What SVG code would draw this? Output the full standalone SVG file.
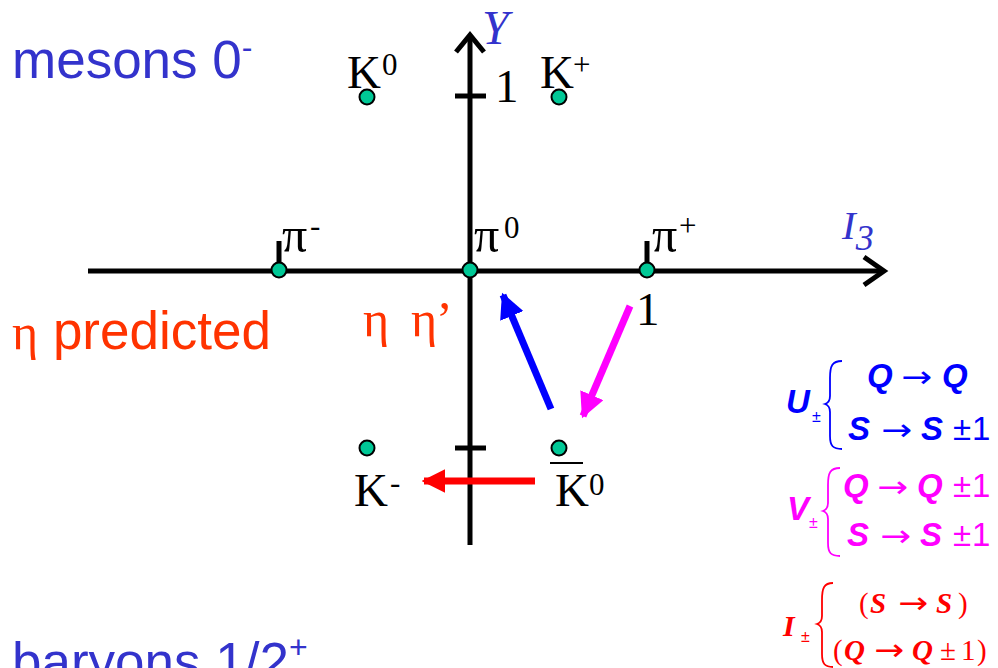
<svg xmlns="http://www.w3.org/2000/svg" width="998" height="668" viewBox="0 0 998 668">
<style>
.ax{stroke:#000;stroke-width:5;fill:none;stroke-linecap:butt}
.dot{fill:#00c896;stroke:#000;stroke-width:2}
.lab{font-family:"Liberation Serif","DejaVu Serif",serif;font-size:47px;fill:#000}
.pi{font-family:"Liberation Serif","DejaVu Serif",serif;font-size:50px;fill:#000}
.sup{font-size:31px}
.big{font-family:"Liberation Sans",Arial,sans-serif;font-size:53px}
.f{font-family:"Liberation Sans",Arial,sans-serif;font-size:33px;font-weight:bold;font-style:italic}
.fs{font-family:"Liberation Serif","Times New Roman",serif;font-size:29px;font-weight:bold;font-style:italic}
.ar{font-family:"DejaVu Sans",sans-serif;font-weight:normal;font-style:normal;font-size:30px}
.n{font-family:"Liberation Sans",Arial,sans-serif;font-weight:normal;font-style:normal}
.ns{font-family:"Liberation Serif",serif;font-weight:normal;font-style:normal}
.sub{font-family:"Liberation Sans",Arial,sans-serif;font-weight:normal;font-style:normal;font-size:16px}
</style>
<defs>
<marker id="hb" viewBox="0 0 10 10" refX="9" refY="5" markerWidth="3.6" markerHeight="3.6" orient="auto" markerUnits="strokeWidth"><path d="M0,0 L10,5 L0,10 z" fill="#0000ff"/></marker>
<marker id="hm" viewBox="0 0 10 10" refX="9" refY="5" markerWidth="3.6" markerHeight="3.6" orient="auto" markerUnits="strokeWidth"><path d="M0,0 L10,5 L0,10 z" fill="#ff00ff"/></marker>
<marker id="hr" viewBox="0 0 10 10" refX="9" refY="5" markerWidth="3.4" markerHeight="3.4" orient="auto" markerUnits="strokeWidth"><path d="M0,0 L10,5 L0,10 z" fill="#ff0000"/></marker>
</defs>
<rect width="998" height="668" fill="#fff"/>
<g id="axes">
<line class="ax" x1="88" y1="271" x2="884" y2="271"/>
<polyline class="ax" points="864,257 884,271 864,285"/>
<line class="ax" x1="470" y1="545" x2="470" y2="36"/>
<polyline class="ax" points="456,52 470,35 484,52"/>
<line class="ax" x1="455" y1="96" x2="486" y2="96"/>
<line class="ax" x1="455" y1="448" x2="486" y2="448"/>
<line class="ax" x1="279" y1="241" x2="279" y2="271"/>
<line class="ax" x1="647" y1="241" x2="647" y2="271"/>
<text x="482" y="44" style="font-family:'Liberation Serif',serif;font-style:italic;font-size:48px;fill:#3333cc">Y</text>
<text x="495" y="102" class="lab">1</text>
<text x="842" y="239" style="font-family:'Liberation Serif',serif;font-style:italic;font-size:41px;fill:#3333cc">I<tspan dy="11" font-size="36">3</tspan></text>
<text x="636" y="325" class="lab">1</text>
</g>
<g id="K0">
<circle class="dot" cx="367" cy="97" r="7.5"/>
<text x="347" y="88" class="lab">K<tspan class="sup" x="382" dy="-13">0</tspan></text>
</g>
<g id="Kplus">
<circle class="dot" cx="559" cy="97" r="7.5"/>
<text x="540" y="88" class="lab">K<tspan class="sup" x="573" dy="-13">+</tspan></text>
</g>
<g id="piminus">
<circle class="dot" cx="279" cy="270" r="7.5"/>
<text x="282" y="252" class="pi">π<tspan class="sup" x="310" dy="-16">-</tspan></text>
</g>
<g id="pi0">
<circle class="dot" cx="470" cy="270" r="7.5"/>
<text x="474" y="252" class="pi">π<tspan class="sup" x="504" dy="-14">0</tspan></text>
</g>
<g id="piplus">
<circle class="dot" cx="647" cy="270" r="7.5"/>
<text x="652" y="252" class="pi">π<tspan class="sup" x="679" dy="-16">+</tspan></text>
</g>
<g id="Kminus">
<circle class="dot" cx="367" cy="448" r="7.5"/>
<text x="354" y="506" class="lab">K<tspan class="sup" x="390" dy="-13">-</tspan></text>
</g>
<g id="K0bar">
<circle class="dot" cx="559" cy="448" r="7.5"/>
<line x1="550" y1="463" x2="583" y2="463" stroke="#000" stroke-width="2"/>
<text x="555" y="506" class="lab">K<tspan class="sup" x="589" dy="-11">0</tspan></text>
</g>
<g id="connectors">
<line x1="551" y1="409" x2="503" y2="295" stroke="#0000ff" stroke-width="7" marker-end="url(#hb)"/>
<line x1="630" y1="306" x2="583" y2="416" stroke="#ff00ff" stroke-width="7" marker-end="url(#hm)"/>
<line x1="535" y1="481" x2="424" y2="481" stroke="#ff0000" stroke-width="7" marker-end="url(#hr)"/>
</g>
<g id="titles">
<text x="12" y="78" class="big" fill="#3333cc">mesons 0<tspan font-size="32" dy="-20">-</tspan></text>
<text x="12" y="349" class="big" fill="#ff3300"><tspan style="font-family:'Liberation Serif',serif;font-size:50px">η</tspan> predicted</text>
<text y="336" style="font-family:'Liberation Serif',serif;font-size:50px;fill:#ff3300"><tspan x="363">η</tspan><tspan x="411">η</tspan><tspan x="436">’</tspan></text>
<text x="12" y="680" class="big" fill="#3333cc">baryons 1/2<tspan font-size="32" dy="-22">+</tspan></text>
</g>
<g id="U" fill="#0000ff">
<text x="786" y="413" class="f">U<tspan class="sub" x="812" y="422">±</tspan></text>
<path d="M842,361 C832,361 830,366 830,378 L830,396 C830,401 828,403 825,404 C828,405 830,407 830,412 L830,436 C830,446 833,449 842,449" fill="none" stroke="#0000ff" stroke-width="1.8"/>
<text y="387" class="f"><tspan x="867">Q</tspan><tspan class="ar" x="901" textLength="31" lengthAdjust="spacingAndGlyphs">→</tspan><tspan x="942">Q</tspan></text>
<text y="440" class="f"><tspan x="848">S</tspan><tspan class="ar" x="881" textLength="31" lengthAdjust="spacingAndGlyphs">→</tspan><tspan x="921">S</tspan><tspan class="n" x="953">±</tspan><tspan class="n" x="972">1</tspan></text>
</g>
<g id="V" fill="#ff00ff">
<text x="787" y="520" class="f">V<tspan class="sub" x="809" y="528">±</tspan></text>
<path d="M840,468 C830,468 828,473 828,485 L828,503 C828,508 826,510 823,511 C826,512 828,514 828,519 L828,543 C828,553 831,556 840,556" fill="none" stroke="#ff00ff" stroke-width="1.8"/>
<text y="497" class="f"><tspan x="843">Q</tspan><tspan class="ar" x="877" textLength="31" lengthAdjust="spacingAndGlyphs">→</tspan><tspan x="917">Q</tspan><tspan class="n" x="953">±</tspan><tspan class="n" x="972">1</tspan></text>
<text y="546" class="f"><tspan x="847">S</tspan><tspan class="ar" x="880" textLength="31" lengthAdjust="spacingAndGlyphs">→</tspan><tspan x="920">S</tspan><tspan class="n" x="953">±</tspan><tspan class="n" x="972">1</tspan></text>
</g>
<g id="I" fill="#ff0000">
<text x="783" y="636" class="fs" style="font-size:30px">I<tspan class="sub" x="801" y="642">±</tspan></text>
<path d="M833,583 C824,583 822,588 822,600 L822,616 C822,621 820,623 817,624 C820,625 822,627 822,632 L822,654 C822,664 825,667 833,667" fill="none" stroke="#ff0000" stroke-width="1.8"/>
<text y="613" class="fs"><tspan class="ns" x="859">(</tspan><tspan x="870">S</tspan><tspan class="ar" x="898" textLength="30" lengthAdjust="spacingAndGlyphs">→</tspan><tspan x="936">S</tspan><tspan class="ns" x="958">)</tspan></text>
<text y="660" class="fs"><tspan class="ns" x="833">(</tspan><tspan x="844">Q</tspan><tspan class="ar" x="874" textLength="30" lengthAdjust="spacingAndGlyphs">→</tspan><tspan x="912">Q</tspan><tspan class="ns" x="940">±</tspan><tspan class="ns" x="961">1</tspan><tspan class="ns" x="977">)</tspan></text>
</g>
</svg>
